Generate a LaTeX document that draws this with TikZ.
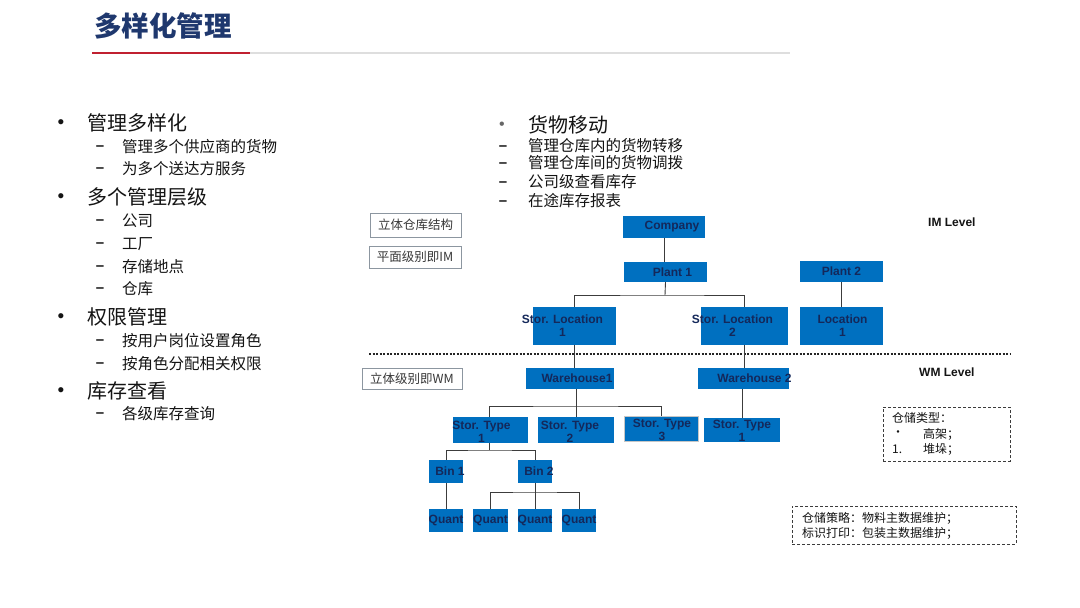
\documentclass[tikz,border=0pt]{standalone}
\usepackage{fontspec}
\setmainfont{Liberation Sans}
\newfontfamily\cjk{Noto Sans CJK SC}
\definecolor{titleblue}{RGB}{31,56,110}
\definecolor{redline}{RGB}{192,32,48}
\definecolor{greyline}{RGB}{222,222,222}
\definecolor{txt}{RGB}{20,20,20}
\definecolor{boxblue}{RGB}{0,112,192}
\definecolor{navy}{RGB}{20,40,90}
\definecolor{lblgray}{RGB}{140,150,160}
\definecolor{conn}{RGB}{60,60,60}
\tikzset{
  mainitem/.style={anchor=west, inner sep=0, text=txt, font=\cjk\fontsize{20}{24}\selectfont},
  subitem/.style={anchor=west, inner sep=0, text=txt, font=\cjk\fontsize{15.5}{18}\selectfont},
  bul/.style={inner sep=0, text=txt, font=\fontsize{19}{20}\selectfont},
  dashmark/.style={inner sep=0, text=txt, font=\bfseries\fontsize{15}{16}\selectfont},
  bbox/.style={fill=boxblue, draw=none, inner sep=0},
  btxt/.style={inner sep=0, text=navy, align=center, font=\bfseries\fontsize{12}{13}\selectfont},
  lbox/.style={draw=lblgray, line width=0.9pt, fill=white, inner sep=0, text=txt!85, font=\cjk\fontsize{12.5}{14}\selectfont},
  conline/.style={draw=conn, line width=0.9pt},
  dbox/.style={draw=conn, dash pattern=on 3pt off 2pt, line width=0.8pt, inner sep=0},
  smalltxt/.style={anchor=west, inner sep=0, text=txt, font=\cjk\fontsize{12}{14}\selectfont},
  lvl/.style={anchor=west, inner sep=0, text=txt, font=\bfseries\fontsize{12}{14}\selectfont}
}
\begin{document}
\begin{tikzpicture}[x=1pt,y=-1pt]
\useasboundingbox[fill=white] (0,0) rectangle (1080,608);

% title
\node[anchor=west, inner sep=0, text=titleblue, font=\cjk\bfseries\fontsize{27.5}{30}\selectfont] (title) at (94,26) {多样化管理};
\draw[greyline, line width=2.5pt] (92,53) -- (790,53);
\draw[redline, line width=2.5pt] (92,53) -- (250,53);

% left column
\node[bul] (lb1) at (61,124) {•};
\node[mainitem] (l1) at (87,123) {管理多样化};
\node[dashmark] (ld1) at (100,148) {–};
\node[subitem] (l11) at (122,147) {管理多个供应商的货物};
\node[dashmark] (ld2) at (100,170) {–};
\node[subitem] (l12) at (122,169) {为多个送达方服务};
\node[bul] (lb2) at (61,198) {•};
\node[mainitem] (l2) at (87,197) {多个管理层级};
\node[dashmark] (ld3) at (100,222) {–};
\node[subitem] (l21) at (122,221) {公司};
\node[dashmark] (ld4) at (100,245) {–};
\node[subitem] (l22) at (122,244) {工厂};
\node[dashmark] (ld5) at (100,268) {–};
\node[subitem] (l23) at (122,267) {存储地点};
\node[dashmark] (ld6) at (100,290) {–};
\node[subitem] (l24) at (122,289) {仓库};
\node[bul] (lb3) at (61,318) {•};
\node[mainitem] (l3) at (87,317) {权限管理};
\node[dashmark] (ld7) at (100,342) {–};
\node[subitem] (l31) at (122,341) {按用户岗位设置角色};
\node[dashmark] (ld8) at (100,365) {–};
\node[subitem] (l32) at (122,364) {按角色分配相关权限};
\node[bul] (lb4) at (61,392) {•};
\node[mainitem] (l4) at (87,391) {库存查看};
\node[dashmark] (ld9) at (100,415) {–};
\node[subitem] (l41) at (122,414) {各级库存查询};

% right column
\node[bul, text=txt!65, font=\fontsize{16}{18}\selectfont] (rb1) at (502,126) {•};
\node[mainitem] (r1) at (528,125) {货物移动};
\node[dashmark] (rd1) at (503,148) {–};
\node[subitem] (r11) at (528,146) {管理仓库内的货物转移};
\node[dashmark] (rd2) at (503,165) {–};
\node[subitem] (r12) at (528,163) {管理仓库间的货物调拨};
\node[dashmark] (rd3) at (503,184) {–};
\node[subitem] (r13) at (528,182) {公司级查看库存};
\node[dashmark] (rd4) at (503,203) {–};
\node[subitem] (r14) at (528,201) {在途库存报表};

% label boxes
\node[lbox, minimum width=91pt, minimum height=24pt] (lab1) at (415.5,225) {立体仓库结构};
\node[lbox, minimum width=92pt, minimum height=22pt] (lab2) at (415,257) {平面级别即IM};
\node[lbox, minimum width=100pt, minimum height=21pt] (lab3) at (412,378.5) {立体级别即WM};

\node[lvl] (iml) at (928,222) {IM Level};
\node[lvl] (wml) at (919,372) {WM Level};

% dotted separator
\draw[conn!60!black, line width=2pt, dash pattern=on 2pt off 1.5pt] (369,354) -- (1010,354);

% blue boxes
\node[bbox, minimum width=82pt, minimum height=22pt, label={[btxt,xshift=8pt]center:Company}] (company) at (664,227) {};
\node[bbox, minimum width=83pt, minimum height=20pt, label={[btxt,xshift=7pt]center:Plant 1}] (plant1) at (665.5,272) {};
\node[bbox, minimum width=83pt, minimum height=21pt, label={[btxt]center:Plant 2}] (plant2) at (841.5,271.5) {};
\node[bbox, minimum width=83pt, minimum height=38pt, label={[btxt,xshift=-12pt]center:{Stor. Location\\1}}] (sl1) at (574.5,326) {};
\node[bbox, minimum width=87pt, minimum height=38pt, label={[btxt,xshift=-12pt]center:{Stor. Location\\2}}] (sl2) at (744.5,326) {};
\node[bbox, minimum width=83pt, minimum height=38pt, label={[btxt,xshift=1pt]center:{Location\\1}}] (loc1) at (841.5,326) {};
\node[bbox, minimum width=88pt, minimum height=21pt, label={[btxt,xshift=7pt]center:Warehouse1}] (wh1) at (570,378.5) {};
\node[bbox, minimum width=91pt, minimum height=21pt, label={[btxt,xshift=11pt]center:Warehouse 2}] (wh2) at (743.5,378.5) {};
\node[bbox, minimum width=75pt, minimum height=26pt, label={[btxt,xshift=-9pt,yshift=-2pt]center:{Stor. Type\\1}}] (st1) at (490.5,430) {};
\node[bbox, minimum width=76pt, minimum height=26pt, label={[btxt,xshift=-6pt,yshift=-2pt]center:{Stor. Type\\2}}] (st2) at (576,430) {};
\node[bbox, draw=gray!45, line width=1pt, minimum width=74pt, minimum height=25pt, label={[btxt,xshift=1pt,yshift=-1pt]center:{Stor. Type\\3}}] (st3) at (661,429) {};
\node[bbox, minimum width=76pt, minimum height=24pt, label={[btxt,yshift=-1pt]center:{Stor. Type\\1}}] (st4) at (742,430) {};
\node[bbox, minimum width=34pt, minimum height=23pt, label={[btxt,xshift=4pt]center:Bin 1}] (bin1) at (446,471.5) {};
\node[bbox, minimum width=34pt, minimum height=23pt, label={[btxt,xshift=4pt]center:Bin 2}] (bin2) at (535,471.5) {};
\node[bbox, minimum width=34pt, minimum height=23pt, label={[btxt]center:Quant}] (q1) at (446,520.5) {};
\node[bbox, minimum width=35pt, minimum height=23pt, label={[btxt]center:Quant}] (q2) at (490.5,520.5) {};
\node[bbox, minimum width=34pt, minimum height=23pt, label={[btxt]center:Quant}] (q3) at (535,520.5) {};
\node[bbox, minimum width=34pt, minimum height=23pt, label={[btxt]center:Quant}] (q4) at (579,520.5) {};

% connectors
\coordinate (b1) at (665,295);
\coordinate (b2) at (576,406);
\coordinate (b3) at (489,450);
\coordinate (b4) at (535,492);
\draw[conline] (company.south) -- (company.south |- plant1.north);
\draw[conline] (plant1.south) -- (b1);
\draw[conline] (sl1.north) |- (b1) -| (sl2.north);
\draw[conline] (plant2.south) -- (loc1.north);
\draw[conline] (sl1.south) -- (sl1.south |- wh1.north);
\draw[conline] (sl2.south) -- (sl2.south |- wh2.north);
\draw[conline] (b2 |- wh1.south) -- (st2.north);
\draw[conline] (st1.north -| b3) |- (b2) -| (st3.north);
\draw[conline] (wh2.south -| st4.north) -- (st4.north);
\draw[conline] (st1.south -| b3) -- (b3);
\draw[conline] (bin1.north) |- (b3) -| (bin2.north);
\draw[conline] (bin1.south) -- (q1.north);
\draw[conline] (bin2.south) -- (q3.north);
\draw[conline] (q2.north) |- (b4) -| (q4.north);

% dashed note boxes
\node[dbox, minimum width=127pt, minimum height=54pt] (note1) at (946.5,434) {};
\node[smalltxt] (n1a) at (892,418) {仓储类型：};
\node[smalltxt] (n1b) at (892,434) {•};
\node[smalltxt] (n1c) at (923,434) {高架；};
\node[smalltxt] (n1d) at (892,449) {1.};
\node[smalltxt] (n1e) at (923,449) {堆垛；};
\node[dbox, minimum width=224pt, minimum height=38pt] (note2) at (904,525) {};
\node[smalltxt] (n2a) at (802,518) {仓储策略：物料主数据维护；};
\node[smalltxt] (n2b) at (802,533) {标识打印：包装主数据维护；};
\end{tikzpicture}
\end{document}
